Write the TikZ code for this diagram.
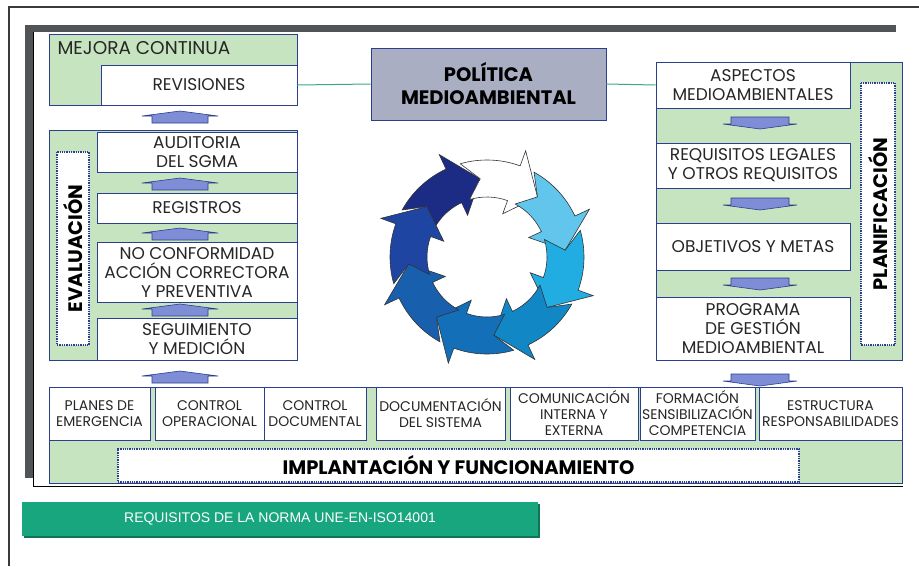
\documentclass[tikz,border=0pt]{standalone}
\usepackage{fontspec}
\usepackage{xcolor}
\newfontfamily\gothic{Poppins}
\newfontfamily\arialf{Liberation Sans}
\definecolor{panelgreen}{HTML}{C6E4BF}
\definecolor{boxblue}{HTML}{2B3E90}
\definecolor{framegray}{HTML}{505456}
\definecolor{polgray}{HTML}{A9AEC2}
\definecolor{linkgreen}{HTML}{3AA68C}
\definecolor{arrowfill}{HTML}{7F8DD6}
\definecolor{normgreen}{HTML}{17A67E}
\definecolor{ringA}{HTML}{1C2C84}
\definecolor{ringC}{HTML}{62C6EC}
\definecolor{ringD}{HTML}{21ADE2}
\definecolor{ringE}{HTML}{1187C6}
\definecolor{ringF}{HTML}{136FB8}
\definecolor{ringG}{HTML}{1860AE}
\definecolor{ringH}{HTML}{1F45A2}

\begin{document}
\begin{tikzpicture}[x=1pt,y=-1pt,
   panel/.style={draw=boxblue,fill=panelgreen,line width=.8pt,inner sep=0pt},
   box/.style={draw=boxblue,fill=white,line width=.8pt,inner sep=0pt,align=center,text=black!85,font=\gothic\fontsize{17}{19}\selectfont},
   smallbox/.style={box,font=\gothic\fontsize{14}{16}\selectfont},
   dotbox/.style={draw=boxblue,densely dotted,line width=1.3pt,fill=white,inner sep=0pt,font=\gothic\bfseries\fontsize{19.5}{19.5}\selectfont},
   conn/.style={linkgreen,line width=1pt},
   uparr/.pic={\filldraw[fill=arrowfill,draw=boxblue,line width=.6pt] (-28,0) -- (-28,-7) -- (-38,-7) -- (0,-12) -- (38,-7) -- (28,-7) -- (28,0) -- cycle;},
   downarr/.pic={\filldraw[fill=arrowfill,draw=boxblue,line width=.6pt] (-29,0) -- (-29,7) -- (-37,7) -- (0,12) -- (37,7) -- (29,7) -- (29,0) -- cycle;}]
   \useasboundingbox (0,0) rectangle (919,566);
   \draw[framegray!70!black,line width=1.2pt] (9,566) -- (9,7) -- (919,7);
   \fill[framegray] (25,25) rectangle (896,478);
   \fill[white] (33,32) rectangle (903,486);
   \draw[black,line width=.8pt] (33,32) -- (33,486) -- (903,486);

   \node[panel,minimum width=248pt,minimum height=71pt] (mej) at (173,69.5) {};
   \node[anchor=west,text=black!85,font=\gothic\fontsize{18.5}{18.5}\selectfont] (mejl) at (54,48) {MEJORA CONTINUA};
   \node[box,minimum width=196pt,minimum height=40pt] (rev) at (199,85) {REVISIONES};

   \node[panel,minimum width=248pt,minimum height=230pt] (evp) at (173,245) {};
   \node[box,minimum width=200pt,minimum height=40pt] (aud) at (197,152) {AUDITORIA\\DEL SGMA};
   \node[box,minimum width=200pt,minimum height=30pt] (reg) at (197,208) {REGISTROS};
   \node[box,minimum width=200pt,minimum height=60pt] (ncf) at (197,272) {NO CONFORMIDAD\\ACCIÓN CORRECTORA\\Y PREVENTIVA};
   \node[box,minimum width=200pt,minimum height=42pt] (seg) at (197,339) {SEGUIMIENTO\\Y MEDICIÓN};
   \node[dotbox,rotate=90,minimum width=193pt,minimum height=32pt] (eva) at (73,248.5) {EVALUACIÓN};
   \pic at (180,123) {uparr};
   \pic at (180,190) {uparr};
   \pic at (180,240) {uparr};
   \pic at (180,316) {uparr};
   \pic at (180,383) {uparr};

   \node[draw=boxblue,fill=polgray,line width=.8pt,minimum width=235pt,minimum height=72pt,align=center,font=\gothic\bfseries\fontsize{19.5}{23}\selectfont] (pol) at (488.5,84) {POLÍTICA\\MEDIOAMBIENTAL};

   \node[panel,minimum width=246pt,minimum height=298pt] (plp) at (779,211) {};
   \node[box,minimum width=194pt,minimum height=46pt] (asp) at (753,85) {ASPECTOS\\MEDIOAMBIENTALES};
   \node[box,minimum width=194pt,minimum height=45pt] (req) at (753,165.5) {REQUISITOS LEGALES\\Y OTROS REQUISITOS};
   \node[box,minimum width=194pt,minimum height=47pt] (obj) at (753,246.5) {OBJETIVOS Y METAS};
   \node[box,minimum width=194pt,minimum height=63pt] (prog) at (753,328.5) {PROGRAMA\\DE GESTIÓN\\MEDIOAMBIENTAL};
   \node[dotbox,rotate=90,minimum width=262pt,minimum height=34pt] (pla) at (878,214) {PLANIFICACIÓN};
   \pic at (760,117) {downarr};
   \pic at (760,198) {downarr};
   \pic at (760,278) {downarr};
   \pic at (760,374) {downarr};

   \draw[conn] (rev.east) -- (pol.west);
   \draw[conn] (pol.east) -- (asp.west);

   \node[panel,minimum width=853pt,minimum height=96pt] (imp) at (475.5,435) {};
   \node[smallbox,minimum width=101pt,minimum height=53pt] (pem) at (99.5,413.5) {PLANES DE\\EMERGENCIA};
   \node[smallbox,minimum width=109pt,minimum height=53pt] (cop) at (209.5,413.5) {CONTROL\\OPERACIONAL};
   \node[smallbox,minimum width=102pt,minimum height=53pt] (cdo) at (315,413.5) {CONTROL\\DOCUMENTAL};
   \node[smallbox,minimum width=129pt,minimum height=53pt] (dsi) at (440.5,413.5) {DOCUMENTACIÓN\\DEL SISTEMA};
   \node[smallbox,minimum width=128pt,minimum height=53pt] (com) at (574,413.5) {COMUNICACIÓN\\INTERNA Y\\EXTERNA};
   \node[smallbox,minimum width=115pt,minimum height=53pt] (for) at (697.5,413.5) {FORMACIÓN\\SENSIBILIZACIÓN\\COMPETENCIA};
   \node[smallbox,minimum width=143pt,minimum height=53pt] (est) at (830.5,413.5) {ESTRUCTURA\\RESPONSABILIDADES};
   \node[dotbox,minimum width=681pt,minimum height=33pt] (impl) at (458.5,465.5) {IMPLANTACIÓN Y FUNCIONAMIENTO};

   \fill[normgreen!70!black] (24,504) rectangle (540,538);
   \node[fill=normgreen,minimum width=516pt,minimum height=34pt,inner sep=0pt,text=white,font=\arialf\fontsize{14}{14}\selectfont] (norm) at (280,519) {REQUISITOS DE LA NORMA UNE-EN-ISO14001};

   \begin{scope}[shift={(487,257)},yscale=-1]
   \foreach \t/\col in {160/ringA,115/white,70/ringC,25/ringD,-20/ringE,-65/ringF,-110/ringG,-155/ringH}{
      \pgfmathsetmacro\angA{\t-9}
      \pgfmathsetmacro\angB{\t-45}
      \pgfmathsetmacro\angP{\t-65}
      \pgfmathsetmacro\angQ{\t-8}
      \pgfmathsetmacro\angN{\t-20}
      \filldraw[fill=\col,draw=black!80,line width=.6pt] (\angA:97) arc[start angle=\angA,end angle=\angB,radius=97] -- (\angB:113) -- (\angP:78.5) -- (\angB:46) -- (\angB:60) arc[start angle=\angB,end angle=\angQ,radius=60] -- (\angN:78.5) -- cycle;
   }
   \end{scope}
\end{tikzpicture}
\end{document}
